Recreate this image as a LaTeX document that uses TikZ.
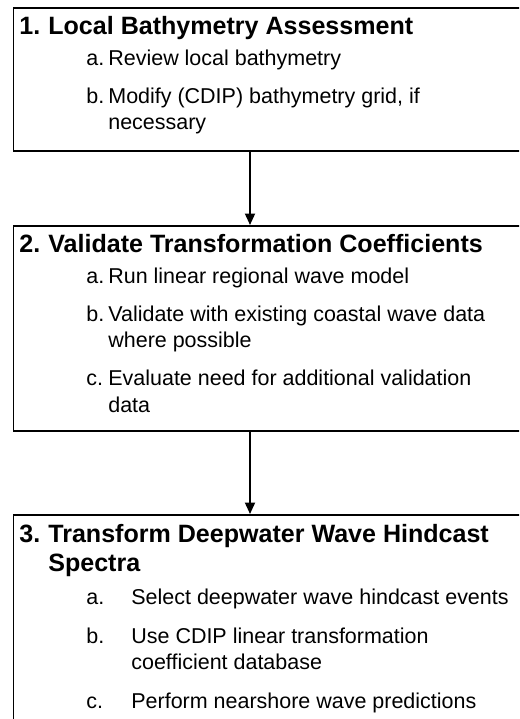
\documentclass[tikz,border=0pt]{standalone}
\usepackage{fontspec}
\setmainfont{Liberation Sans}
\usetikzlibrary{positioning,arrows.meta}
\definecolor{ink}{HTML}{000000}

\begin{document}
\begin{tikzpicture}[x=0.5587pt,y=-0.5587pt,
    font=\fontsize{12}{14}\selectfont,
    stage/.style={draw=ink,line width=1pt,rectangle,inner sep=0pt,
                  anchor=north west,minimum width=528*0.5587pt},
    txt/.style={anchor=base west,inner sep=0pt,color=ink},
    head/.style={txt,font=\fontsize{14}{16}\selectfont\bfseries},
    flow/.style={draw=ink,line width=1pt,-{Triangle[width=5.6pt,length=6.4pt]}}]
  \useasboundingbox (0,0) rectangle (519,719);
  \clip (0,0) rectangle (519,719);

  % stage boxes
  \node[stage,minimum height=143*0.5587pt] (s1) at (12.5,7) {};
  \node[stage,minimum height=205*0.5587pt] (s2) at (12.5,225) {};
  \node[stage,minimum height=260*0.5587pt] (s3) at (12.5,514) {};

  % headings
  \foreach \n/\x/\y/\t in {s1n/19/35/1., s1h/48/35/Local Bathymetry Assessment,
                           s2n/19/253/2., s2h/48/253/Validate Transformation Coefficients,
                           s3n/19/542/3., s3h/48/542/Transform Deepwater Wave Hindcast,
                           s3h2/48/571/Spectra}{
    \node[head] (\n) at (\x,\y) {\t};}

  % sub-steps
  \foreach \n/\x/\y/\t in {s1a/86/66/a., s1at/108/66/Review local bathymetry,
                           s1b/86/104/b., s1bt/108/104/{Modify (CDIP) bathymetry grid, if},
                           s1bt2/108/130/necessary,
                           s2a/86/284/a., s2at/108/284/Run linear regional wave model,
                           s2b/86/322/b., s2bt/108/322/Validate with existing coastal wave data,
                           s2bt2/108/348/where possible,
                           s2c/86/386/c., s2ct/108/386/Evaluate need for additional validation,
                           s2ct2/108/412/data,
                           s3a/86/604/a., s3at/131/604/Select deepwater wave hindcast events,
                           s3b/86/643/b., s3bt/131/643/Use CDIP linear transformation,
                           s3bt2/131/669/coefficient database,
                           s3c/86/708/c., s3ct/131/708/Perform nearshore wave predictions}{
    \node[txt] (\n) at (\x,\y) {\t};}

  % connectors
  \coordinate (ax) at (250,0);
  \draw[flow] (s1.south -| ax) -- (s2.north -| ax);
  \draw[flow] (s2.south -| ax) -- (s3.north -| ax);
\end{tikzpicture}
\end{document}
